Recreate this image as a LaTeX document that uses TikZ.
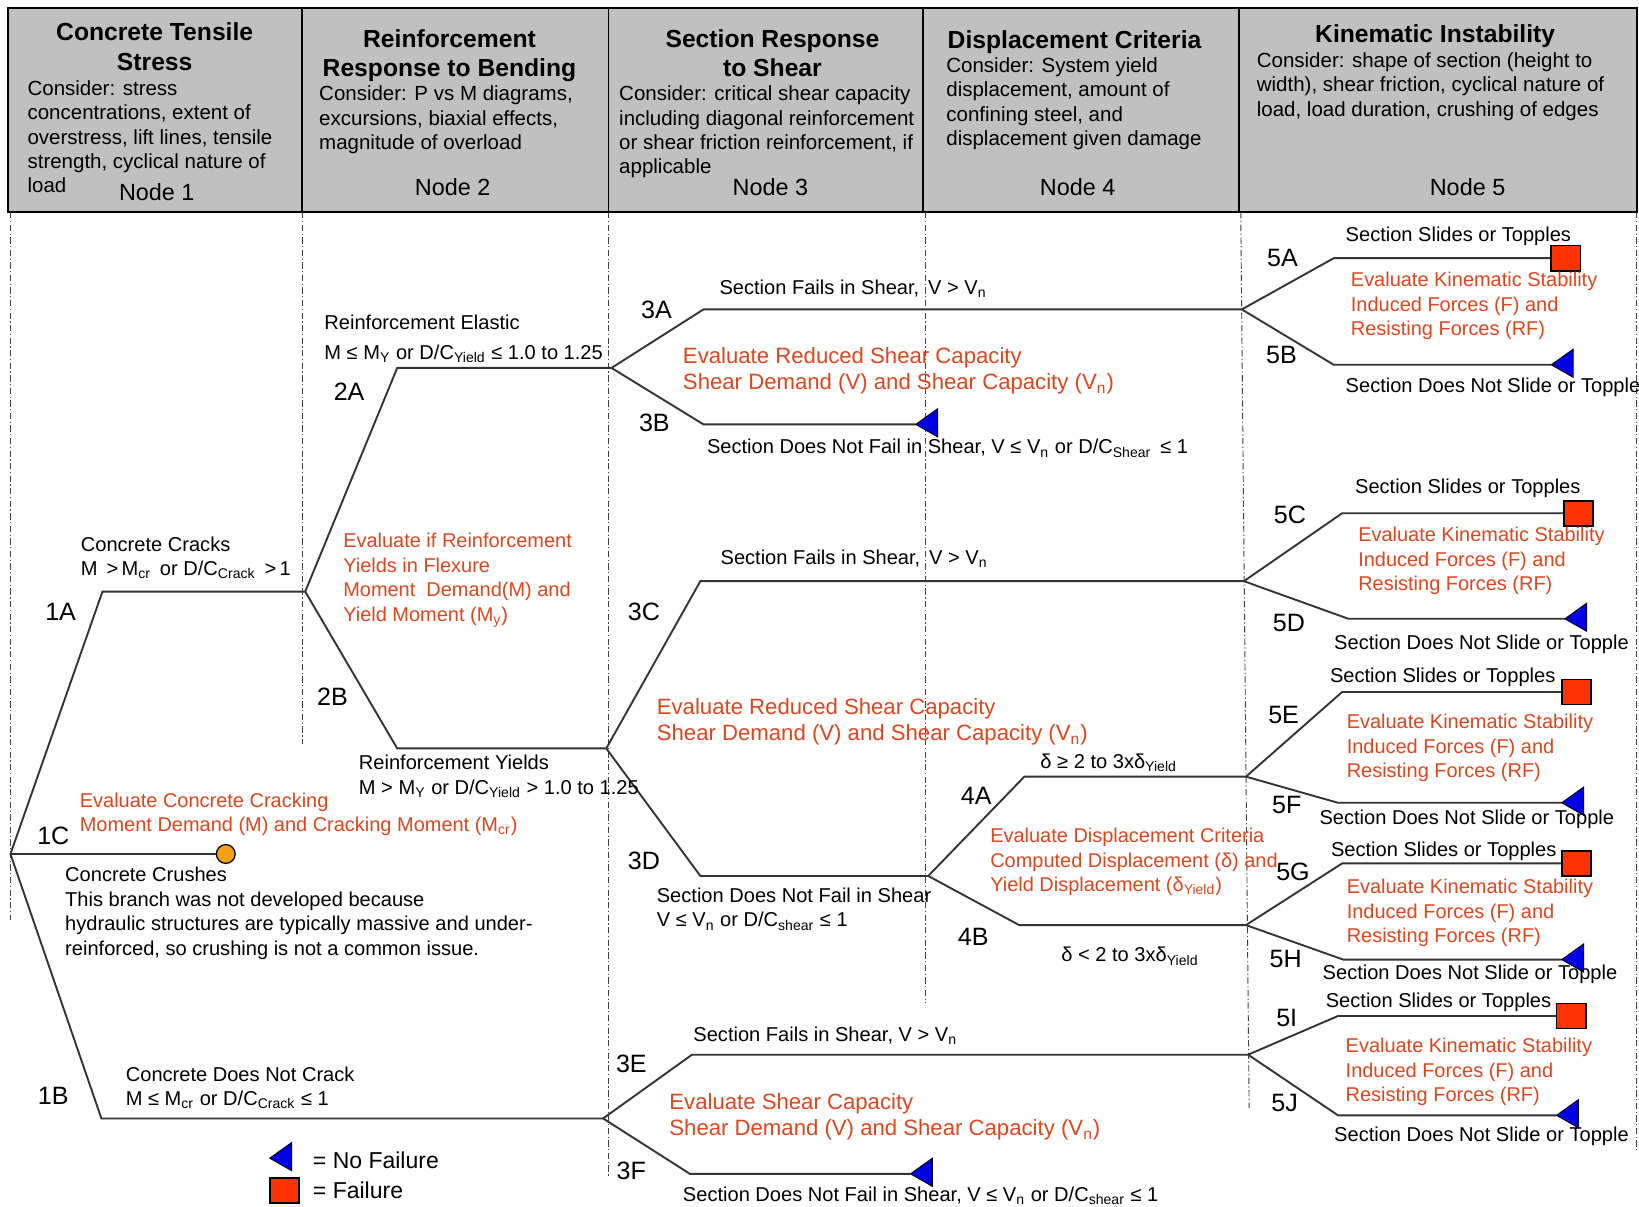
\documentclass[tikz,border=0pt]{standalone}
\usepackage{fontspec}
\setmainfont{Liberation Sans}
\definecolor{hdrgray}{RGB}{192,192,192}
\definecolor{redtxt}{RGB}{222,70,30}
\definecolor{failred}{RGB}{255,51,0}
\definecolor{nofailblue}{RGB}{0,0,230}
\definecolor{crush}{RGB}{245,160,20}
\newcommand{\sbs}[1]{\textsubscript{#1}}
\begin{document}
\begin{tikzpicture}[x=0.5pt,y=-0.5pt,
  br/.style={line width=0.9pt, draw=black!80},
  sepline/.style={line width=0.45pt, draw=black!75, dash pattern=on 3pt off 1.2pt on 0.6pt off 1.2pt},
  ttl/.style={font=\bfseries\fontsize{11.8}{14}\selectfont, align=center, anchor=north, inner sep=0pt},
  cons/.style={font=\fontsize{9.8}{11.6}\selectfont, align=left, anchor=north west, inner sep=0pt},
  nlbl/.style={font=\fontsize{11.2}{13}\selectfont, inner sep=0pt},
  blbl/.style={font=\fontsize{12}{14}\selectfont, inner sep=0pt},
  txt/.style={font=\fontsize{9.6}{11.75}\selectfont, align=left, anchor=north west, inner sep=0pt},
  redA/.style={text=redtxt, font=\fontsize{10.6}{12.5}\selectfont, align=left, anchor=north west, inner sep=0pt},
  redB/.style={text=redtxt, font=\fontsize{9.55}{11.65}\selectfont, align=left, anchor=north west, inner sep=0pt},
  nofail/.pic={\draw[line width=0.4pt, fill=nofailblue] (0,0) -- (21,-15) -- (21,12) -- cycle;},
  failsq/.pic={\draw[line width=0.8pt, fill=failred] (0,-12) rectangle (28,12);},
]
\useasboundingbox (0,0) rectangle (1568,1154);
\fill[white] (0,0) rectangle (1568,1154);

% ---------- header ----------
\fill[hdrgray] (8,8) rectangle (1566,203);
\draw[line width=0.9pt] (8,8) rectangle (1566,203);
\foreach \xx in {289,582,883,1185} \draw[line width=0.8pt] (\xx,8) -- (\xx,203);

\node[ttl] (t1) at (148,21.5) {Concrete Tensile\\Stress};
\node[ttl] (t2) at (430,27.5) {Reinforcement\\Response to Bending};
\node[ttl] (t3) at (739,27.5) {Section Response\\to Shear};
\node[ttl] (t4) at (1028,28.5) {Displacement Criteria};
\node[ttl] (t5) at (1373,23.5) {Kinematic Instability};

\node[cons] (c1) at (26,77) {Consider: stress\\concentrations, extent of\\overstress, lift lines, tensile\\strength, cyclical nature of\\load};
\node[cons] (c2) at (305,82) {Consider: P vs M diagrams,\\excursions, biaxial effects,\\magnitude of overload};
\node[cons] (c3) at (592,82) {Consider: critical shear capacity\\including diagonal reinforcement\\or shear friction reinforcement, if\\applicable};
\node[cons] (c4) at (905,55) {Consider:  System yield\\displacement, amount of\\confining steel, and\\displacement given damage};
\node[cons] (c5) at (1202,50) {Consider:  shape of section (height to\\width), shear friction, cyclical nature of\\load, load duration, crushing of edges};

\node[nlbl] (nd1) at (150,184) {Node 1};
\node[nlbl] (nd2) at (433,179) {Node 2};
\node[nlbl] (nd3) at (737,179) {Node 3};
\node[nlbl] (nd4) at (1031,179) {Node 4};
\node[nlbl] (nd5) at (1404,179) {Node 5};

% ---------- separators ----------
\draw[sepline] (10,203) -- (10,880);
\draw[sepline] (289,203) -- (289,712);
\draw[sepline] (582,203) -- (582,1125);
\draw[sepline] (885,203) -- (885,960);
\draw[sepline] (1187,203) -- (1195,1060);
\draw[sepline] (1566,203) -- (1566,1100);

% ---------- tree points ----------
\coordinate (root) at (10,817);
\coordinate (p1A) at (98,566);   \coordinate (j2) at (292,566);
\coordinate (p1C) at (207,817);
\coordinate (p1B) at (97,1070);  \coordinate (j3e) at (577,1070);
\coordinate (p2A) at (380,352);  \coordinate (j3a) at (585,352);
\coordinate (p2B) at (380,716);  \coordinate (j3c) at (580,716);
\coordinate (p3A) at (673,296);  \coordinate (j5a) at (1188,296);
\coordinate (p3B) at (673,406);  \coordinate (e3B) at (876,406);
\coordinate (p5A) at (1276,247); \coordinate (e5A) at (1484,247);
\coordinate (p5B) at (1276,349); \coordinate (e5B) at (1484,349);
\coordinate (p3C) at (670,556);  \coordinate (j5c) at (1190,556);
\coordinate (p3D) at (670,838);  \coordinate (j4) at (888,838);
\coordinate (p5C) at (1284,491); \coordinate (e5C) at (1496,491);
\coordinate (p5D) at (1290,592); \coordinate (e5D) at (1497,592);
\coordinate (p4A) at (980,743);  \coordinate (j5e) at (1192,743);
\coordinate (p4B) at (975,885);  \coordinate (j5g) at (1192,885);
\coordinate (p5E) at (1284,662); \coordinate (e5E) at (1494,662);
\coordinate (p5F) at (1280,768); \coordinate (e5F) at (1494,768);
\coordinate (p5G) at (1284,826); \coordinate (e5G) at (1494,826);
\coordinate (p5H) at (1285,918); \coordinate (e5H) at (1494,918);
\coordinate (p3E) at (662,1009); \coordinate (j5i) at (1194,1009);
\coordinate (p3F) at (660,1123); \coordinate (e3F) at (871,1123);
\coordinate (p5I) at (1280,972); \coordinate (e5I) at (1489,972);
\coordinate (p5J) at (1280,1067);\coordinate (e5J) at (1489,1067);

% ---------- branches ----------
\draw[br] (root) -- (p1A) -- (j2);
\draw[br] (root) -- (p1C);
\draw[br] (root) -- (p1B) -- (j3e);
\draw[br] (j2) -- (p2A) -- (j3a);
\draw[br] (j2) -- (p2B) -- (j3c);
\draw[br] (j3a) -- (p3A) -- (j5a);
\draw[br] (j3a) -- (p3B) -- (e3B);
\draw[br] (j5a) -- (p5A) -- (e5A);
\draw[br] (j5a) -- (p5B) -- (e5B);
\draw[br] (j3c) -- (p3C) -- (j5c);
\draw[br] (j3c) -- (p3D) -- (j4);
\draw[br] (j5c) -- (p5C) -- (e5C);
\draw[br] (j5c) -- (p5D) -- (e5D);
\draw[br] (j4) -- (p4A) -- (j5e);
\draw[br] (j4) -- (p4B) -- (j5g);
\draw[br] (j5e) -- (p5E) -- (e5E);
\draw[br] (j5e) -- (p5F) -- (e5F);
\draw[br] (j5g) -- (p5G) -- (e5G);
\draw[br] (j5g) -- (p5H) -- (e5H);
\draw[br] (j3e) -- (p3E) -- (j5i);
\draw[br] (j3e) -- (p3F) -- (e3F);
\draw[br] (j5i) -- (p5I) -- (e5I);
\draw[br] (j5i) -- (p5J) -- (e5J);

% ---------- end markers ----------
\node[circle, draw, line width=0.6pt, fill=crush, minimum size=9pt, inner sep=0pt] (c1C) at (216,817) {};
\pic at (e3B) {nofail};
\pic at (e5B) {nofail};
\pic at (e5D) {nofail};
\pic at (e5F) {nofail};
\pic at (e5H) {nofail};
\pic at (e3F) {nofail};
\pic at (e5J) {nofail};
\pic at (e5A) {failsq};
\pic at (e5C) {failsq};
\pic at (e5E) {failsq};
\pic at (e5G) {failsq};
\pic at (e5I) {failsq};

% ---------- branch labels ----------
\node[blbl] (l1A) at (58,585) {1A};
\node[blbl] (l1C) at (51,800) {1C};
\node[blbl] (l1B) at (51,1048) {1B};
\node[blbl] (l2A) at (334,375) {2A};
\node[blbl] (l2B) at (318,667) {2B};
\node[blbl] (l3A) at (628,296) {3A};
\node[blbl] (l3B) at (626,405) {3B};
\node[blbl] (l3C) at (616,585) {3C};
\node[blbl] (l3D) at (616,824) {3D};
\node[blbl] (l3E) at (604,1018) {3E};
\node[blbl] (l3F) at (604,1120) {3F};
\node[blbl] (l4A) at (934,761) {4A};
\node[blbl] (l4B) at (931,896) {4B};
\node[blbl] (l5A) at (1227,247) {5A};
\node[blbl] (l5B) at (1226,340) {5B};
\node[blbl] (l5C) at (1234,493) {5C};
\node[blbl] (l5D) at (1233,596) {5D};
\node[blbl] (l5E) at (1228,684) {5E};
\node[blbl] (l5F) at (1231,770) {5F};
\node[blbl] (l5G) at (1237,834) {5G};
\node[blbl] (l5H) at (1230,917) {5H};
\node[blbl] (l5I) at (1231,974) {5I};
\node[blbl] (l5J) at (1229,1055) {5J};

% ---------- black texts ----------
\node[txt] (b1) at (77,513) {Concrete Cracks\\M \,>\,M\sbs{cr} \,or D/C\sbs{Crack} \,>\,1};
\node[txt] (b2) at (62,829) {Concrete Crushes\\This branch was not developed because\\hydraulic structures are typically massive and under-\\reinforced, so crushing is not a common issue.};
\node[txt] (b3) at (120,1020) {Concrete Does Not Crack\\M ≤ M\sbs{cr} or D/C\sbs{Crack} ≤ 1};
\node[txt] (b4) at (310,301) {Reinforcement Elastic\\[2.6pt]M ≤ M\sbs{Y} or D/C\sbs{Yield} ≤ 1.0 to 1.25};
\node[txt] (b5) at (343,722) {Reinforcement Yields\\M > M\sbs{Y} or D/C\sbs{Yield} > 1.0 to 1.25};
\node[txt] (b6) at (688,267) {Section Fails in Shear, \,V > V\sbs{n}};
\node[txt] (b7) at (676,420) {Section Does Not Fail in Shear, V ≤ V\sbs{n} or D/C\sbs{Shear} \,≤ 1};
\node[txt] (b8) at (689,526) {Section Fails in Shear, \,V > V\sbs{n}};
\node[txt] (b9) at (628,849) {Section Does Not Fail in Shear\\V ≤ V\sbs{n} or D/C\sbs{shear} ≤ 1};
\node[txt] (b10) at (663,982) {Section Fails in Shear, V > V\sbs{n}};
\node[txt] (b11) at (653,1135) {Section Does Not Fail in Shear, V ≤ V\sbs{n} or D/C\sbs{shear} ≤ 1};
\node[txt] (b12) at (995,721) {δ ≥ 2 to 3xδ\sbs{Yield}};
\node[txt] (b13) at (1015,906) {δ < 2 to 3xδ\sbs{Yield}};

\node[txt] (s5A) at (1287,217) {Section Slides or Topples};
\node[txt] (s5B) at (1287,361) {Section Does Not Slide or Topple};
\node[txt] (s5C) at (1296,458) {Section Slides or Topples};
\node[txt] (s5D) at (1276,607) {Section Does Not Slide or Topple};
\node[txt] (s5E) at (1272,639) {Section Slides or Topples};
\node[txt] (s5F) at (1262,774) {Section Does Not Slide or Topple};
\node[txt] (s5G) at (1273,805) {Section Slides or Topples};
\node[txt] (s5H) at (1265,923) {Section Does Not Slide or Topple};
\node[txt] (s5I) at (1268,950) {Section Slides or Topples};
\node[txt] (s5J) at (1276,1078) {Section Does Not Slide or Topple};

% ---------- red texts ----------
\node[redB] (r1) at (328,510) {Evaluate if Reinforcement\\Yields in Flexure\\Moment \ Demand(M) and\\Yield Moment (M\sbs{y})};
\node[redA] (r2) at (653,332) {Evaluate Reduced Shear Capacity\\Shear Demand (V) and Shear Capacity (V\sbs{n})};
\node[redA] (r3) at (628,668) {Evaluate Reduced Shear Capacity\\Shear Demand (V) and Shear Capacity (V\sbs{n})};
\node[redA] (r4) at (640,1046) {Evaluate Shear Capacity\\Shear Demand (V) and Shear Capacity (V\sbs{n})};
\node[redB] (r5) at (76,758) {Evaluate Concrete Cracking\\Moment Demand (M) and Cracking Moment (M\sbs{cr})};
\node[redB] (r6) at (947,792) {Evaluate Displacement Criteria\\Computed Displacement (δ) and\\Yield Displacement (δ\sbs{Yield})};
\node[redB] (k1) at (1292,260) {Evaluate Kinematic Stability\\Induced Forces (F) and\\Resisting Forces (RF)};
\node[redB] (k2) at (1299,504) {Evaluate Kinematic Stability\\Induced Forces (F) and\\Resisting Forces (RF)};
\node[redB] (k3) at (1288,683) {Evaluate Kinematic Stability\\Induced Forces (F) and\\Resisting Forces (RF)};
\node[redB] (k4) at (1288,841) {Evaluate Kinematic Stability\\Induced Forces (F) and\\Resisting Forces (RF)};
\node[redB] (k5) at (1287,993) {Evaluate Kinematic Stability\\Induced Forces (F) and\\Resisting Forces (RF)};

% ---------- legend ----------
\coordinate (lgT) at (258,1108);
\coordinate (lgS) at (258,1139);
\pic at (lgT) {nofail};
\pic at (lgS) {failsq};
\node[font=\fontsize{11}{13}\selectfont, anchor=west, inner sep=0pt] (lg1) at (299,1110) {= No Failure};
\node[font=\fontsize{11}{13}\selectfont, anchor=west, inner sep=0pt] (lg2) at (299,1139) {= Failure};
\end{tikzpicture}
\end{document}
